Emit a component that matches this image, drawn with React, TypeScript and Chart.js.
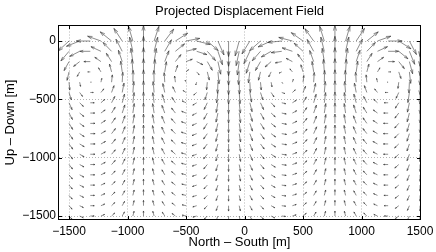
import { useEffect, useRef } from 'react';
import { Chart, registerables } from 'chart.js';

Chart.register(...registerables);

// Grid of arrow tails (m)
const xGrid = [
  -1500, -1409.1, -1318.2, -1227.3, -1136.4, -1045.5, -954.5, -863.6, -772.7, -681.8,
  -590.9, -500, -409.1, -318.2, -227.3, -136.4, -45.5, 45.5, 136.4, 227.3,
  318.2, 409.1, 500, 590.9, 681.8, 772.7, 863.6, 954.5, 1045.5, 1136.4,
  1227.3, 1318.2, 1409.1, 1500,
];
const yGrid = [
  0, -88.2, -176.5, -264.7, -352.9, -441.2, -529.4, -617.6, -705.9, -794.1,
  -882.4, -970.6, -1058.8, -1147.1, -1235.3, -1323.5, -1411.8, -1500,
];

// Column pattern: share of vertical / horizontal motion per column
const colVertical = [
  -0.64, -0.34, 0, 0.31, 0.59, 0.81, 0.95, 1, 0.94, 0.77,
  0.5, 0.17, -0.22, -0.62, -0.9, -1, -0.96, -0.83, -0.63, -0.38,
  -0.09, 0.23, 0.54, 0.79, 0.95, 1, 0.95, 0.81, 0.59, 0.31,
  0, -0.5, -0.87, -1,
];
const colHorizontal = [
  -0.77, -0.94, -1, -0.95, -0.81, -0.59, -0.31, 0, 0.34, 0.64,
  0.87, 0.98, 0.97, 0.78, 0.43, 0, -0.29, -0.56, -0.78, -0.93,
  -1, -0.97, -0.84, -0.62, -0.33, 0, 0.31, 0.59, 0.81, 0.95,
  1, 0.87, 0.5, 0,
];
// Depth pattern: displayed arrow size per row (m)
const rowVertical = [133, 128, 120, 113, 106, 99, 92, 86, 80, 74, 69, 64, 60, 56, 52, 49, 46, 43];
const rowHorizontal = [120, 90, 55, 22, -8, -26, -34, -38, -40, -41, -41, -40, -39, -38, -37, -36, -34, -33];

const xTicks = [-1500, -1000, -500, 0, 500, 1000, 1500];
const xTickLabels = ['\u22121500', '\u22121000', '\u2212500', '0', '500', '1000', '1500'];
const yTicks = [-1500, -1000, -500, 0];
const yTickLabels = ['\u22121500', '\u22121000', '\u2212500', '0'];

const X_MIN = -1590;
const X_MAX = 1504;
const Y_MIN = -1530;
const Y_MAX = 133;

const HEAD_LEN = 0.33;
const HEAD_WIDTH = 0.3;
const FONT = '"Liberation Sans", Arial, Helvetica, sans-serif';

type Vec = { x: number; y: number; u: number; v: number };

function buildVectors(): Vec[] {
  const out: Vec[] = [];
  for (let i = 0; i < yGrid.length; i++) {
    for (let j = 0; j < xGrid.length; j++) {
      out.push({
        x: xGrid[j],
        y: yGrid[i],
        u: rowHorizontal[i] * colHorizontal[j],
        v: rowVertical[i] * colVertical[j],
      });
    }
  }
  return out;
}

const quiverPlugin = {
  id: 'quiver',
  afterDatasetsDraw(chart: any) {
    const { ctx, chartArea, scales } = chart;
    const xs = scales.x;
    const ys = scales.y;
    const px = (v: number) => xs.getPixelForValue(v);
    const py = (v: number) => ys.getPixelForValue(v);
    const pts: Vec[] = chart.data.datasets[0].data;
    const { left, right, top, bottom } = chartArea;

    ctx.save();
    ctx.beginPath();
    ctx.rect(left, top, right - left, bottom - top);
    ctx.clip();
    ctx.strokeStyle = '#2e2e2e';
    ctx.lineWidth = 0.55;
    ctx.beginPath();
    for (const p of pts) {
      const tx = p.x + p.u;
      const ty = p.y + p.v;
      const h1x = tx - HEAD_LEN * (p.u + HEAD_WIDTH * p.v);
      const h1y = ty - HEAD_LEN * (p.v - HEAD_WIDTH * p.u);
      const h2x = tx - HEAD_LEN * (p.u - HEAD_WIDTH * p.v);
      const h2y = ty - HEAD_LEN * (p.v + HEAD_WIDTH * p.u);
      ctx.moveTo(px(p.x), py(p.y));
      ctx.lineTo(px(tx), py(ty));
      ctx.moveTo(px(h1x), py(h1y));
      ctx.lineTo(px(tx), py(ty));
      ctx.lineTo(px(h2x), py(h2y));
    }
    ctx.stroke();
    ctx.restore();

    // axes box and inward ticks
    ctx.save();
    ctx.strokeStyle = '#000';
    ctx.lineWidth = 1;
    ctx.strokeRect(left, top, right - left, bottom - top);
    ctx.beginPath();
    const tl = 3.5;
    for (const t of xTicks) {
      const x = Math.round(px(t)) + 0.5;
      ctx.moveTo(x, bottom);
      ctx.lineTo(x, bottom - tl);
      ctx.moveTo(x, top);
      ctx.lineTo(x, top + tl);
    }
    for (const t of yTicks) {
      const y = Math.round(py(t)) + 0.5;
      ctx.moveTo(left, y);
      ctx.lineTo(left + tl, y);
      ctx.moveTo(right, y);
      ctx.lineTo(right - tl, y);
    }
    ctx.stroke();
    ctx.restore();
  },
};

export default function App() {
  const ref = useRef<HTMLCanvasElement | null>(null);

  useEffect(() => {
    document.body.style.margin = '0';
    Chart.defaults.font.family = FONT;
    const canvas = ref.current;
    if (!canvas) return;
    const chart = new Chart(canvas, {
      type: 'scatter',
      data: {
        datasets: [
          {
            data: buildVectors() as any,
            pointRadius: 0,
            pointHoverRadius: 0,
            showLine: false,
          },
        ],
      },
      plugins: [quiverPlugin],
      options: {
        animation: false,
        responsive: false,
        events: [],
        layout: { padding: { left: 0, right: 15.5, top: 0, bottom: 0 } },
        plugins: {
          legend: { display: false },
          tooltip: { enabled: false },
          title: {
            display: true,
            fullSize: false,
            text: 'Projected Displacement Field',
            color: '#000',
            font: { size: 13, weight: 'normal', family: FONT },
            padding: { top: 4, bottom: 5.9 },
          },
        },
        scales: {
          x: {
            type: 'linear',
            min: X_MIN,
            max: X_MAX,
            afterBuildTicks: (s: any) => {
              s.ticks = xTicks.map((v) => ({ value: v }));
            },
            afterFit: (s: any) => {
              s.height = 32.5;
              s.paddingLeft = 0;
              s.paddingRight = 0;
            },
            ticks: {
              autoSkip: false,
              maxRotation: 0,
              padding: 5,
              color: '#000',
              font: { size: 12, family: FONT },
              callback: (v: any) => xTickLabels[xTicks.indexOf(Number(v))],
            },
            grid: { color: '#b4b4b4', lineWidth: 1, drawTicks: false },
            border: { display: false, dash: [1, 2] },
            title: {
              display: true,
              text: 'North \u2013 South [m]',
              color: '#000',
              font: { size: 13, family: FONT },
              padding: { top: 0, bottom: 2.2 },
            },
          },
          y: {
            type: 'linear',
            min: Y_MIN,
            max: Y_MAX,
            afterBuildTicks: (s: any) => {
              s.ticks = yTicks.map((v) => ({ value: v }));
            },
            afterFit: (s: any) => {
              s.width = 58.5;
              s.paddingTop = 0;
              s.paddingBottom = 0;
            },
            ticks: {
              autoSkip: false,
              padding: 2.5,
              color: '#000',
              font: { size: 12, family: FONT },
              callback: (v: any) => yTickLabels[yTicks.indexOf(Number(v))],
            },
            grid: { color: '#b4b4b4', lineWidth: 1, drawTicks: false },
            border: { display: false, dash: [1, 2] },
            title: {
              display: true,
              text: 'Up \u2013 Down [m]',
              color: '#000',
              font: { size: 13, family: FONT },
              padding: { top: 2.2, bottom: 0 },
            },
          },
        },
      } as any,
    });
    return () => chart.destroy();
  }, []);

  return (
    <div style={{ width: 436, height: 252, position: 'relative', background: '#fff' }}>
      <canvas ref={ref} width={436} height={252} style={{ display: 'block' }} />
    </div>
  );
}
